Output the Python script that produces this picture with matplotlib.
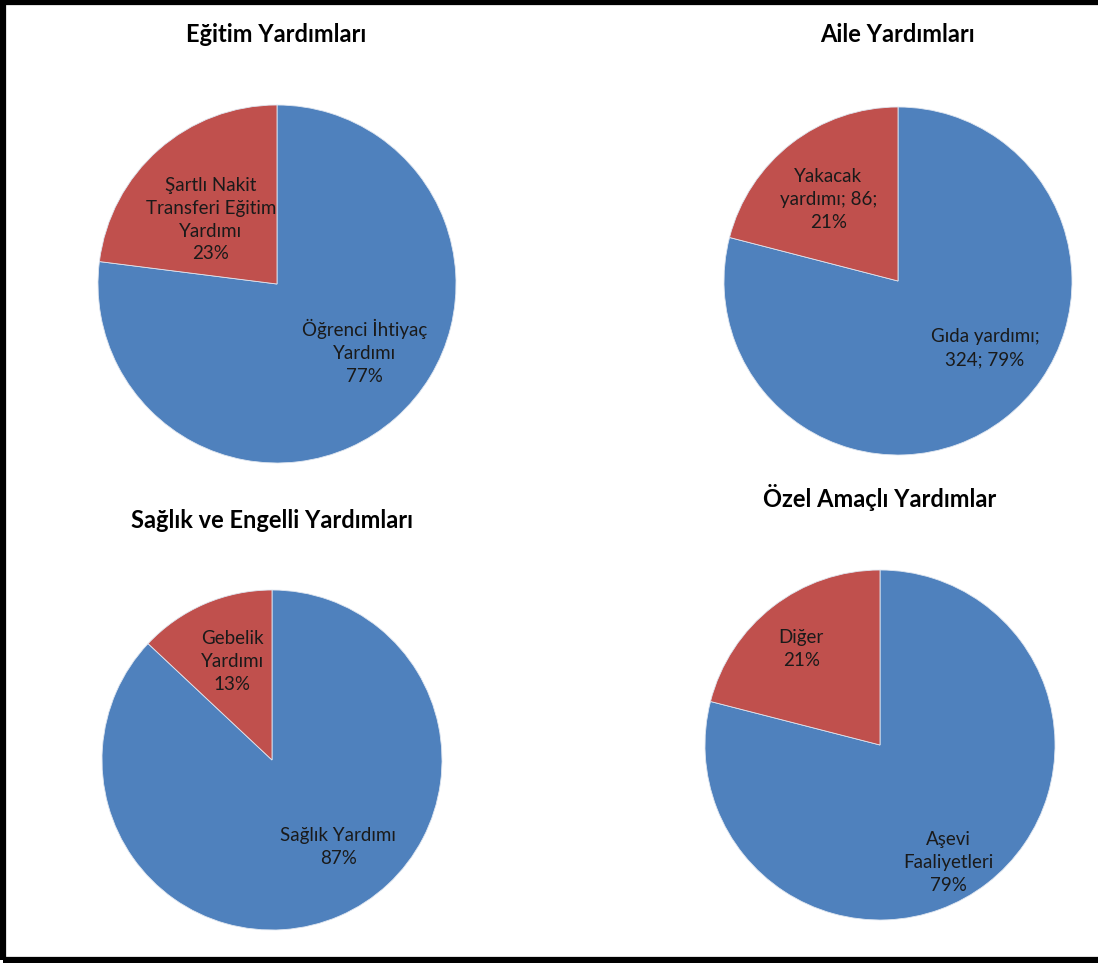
import matplotlib
matplotlib.use("Agg")
import matplotlib.pyplot as plt
from matplotlib.patches import Rectangle

plt.rcParams['font.family'] = ['Lato', 'DejaVu Sans']

# chart data
titles = ["Eğitim Yardımları", "Aile Yardımları",
          "Sağlık ve Engelli Yardımları", "Özel Amaçlı Yardımlar"]
blue_values = [77, 324, 87, 79]
red_values = [23, 86, 13, 21]
blue_labels = ["Öğrenci İhtiyaç\nYardımı\n77%", "Gıda yardımı;\n324; 79%",
               "Sağlık Yardımı\n87%", "Aşevi\nFaaliyetleri\n79%"]
red_labels = ["Şartlı Nakit\nTransferi Eğitim\nYardımı\n23%", "Yakacak\nyardımı; 86;\n21%",
              "Gebelik\nYardımı\n13%", "Diğer\n21%"]

BLUE = "#4F81BD"
RED = "#C0504D"
W, H = 1098, 963

# layout (pixels): pie centre, radius, title position
pies = [
    dict(c=(277, 284), r=179, title=(276, 35)),
    dict(c=(898, 281), r=174, title=(897, 35)),
    dict(c=(272, 760), r=170, title=(272, 520)),
    dict(c=(880, 745), r=175, title=(880, 497)),
]
# label positions in radius units (x right, y up)
blue_pos = [(0.49, -0.38), (0.50, -0.385), (0.39, -0.51), (0.39, -0.67)]
red_pos = [(-0.37, 0.36), (-0.40, 0.47), (-0.235, 0.58), (-0.45, 0.55)]

fig = plt.figure(figsize=(W / 100, H / 100), dpi=100)
fig.patch.set_facecolor("white")

for i, p in enumerate(pies):
    cx, cy = p["c"]
    r = p["r"]
    ax = fig.add_axes([(cx - r) / W, 1 - (cy + r) / H, 2 * r / W, 2 * r / H])
    ax.pie([blue_values[i], red_values[i]], colors=[BLUE, RED], startangle=90,
           counterclock=False, radius=1,
           wedgeprops=dict(edgecolor="#dfe6f0", linewidth=0.6))
    ax.set_xlim(-1.0, 1.0)
    ax.set_ylim(-1.0, 1.0)
    ax.set_aspect("equal")
    ax.axis("off")
    ax.text(*blue_pos[i], blue_labels[i], ha="center", va="center",
            fontsize=13.5, color="#1a1a1a", linespacing=1.42)
    ax.text(*red_pos[i], red_labels[i], ha="center", va="center",
            fontsize=13.5, color="#1a1a1a", linespacing=1.42)
    tx, ty = p["title"]
    fig.text(tx / W, 1 - ty / H, titles[i], ha="center", va="center",
             fontsize=17, fontweight="bold", color="black")

# outer black frame
fig.add_artist(Rectangle((3 / W, 3 / H), 1.2, 1 - 5.5 / H, transform=fig.transFigure,
                         fill=False, edgecolor="black", linewidth=4.5))

fig.savefig("out.png", dpi=100)
